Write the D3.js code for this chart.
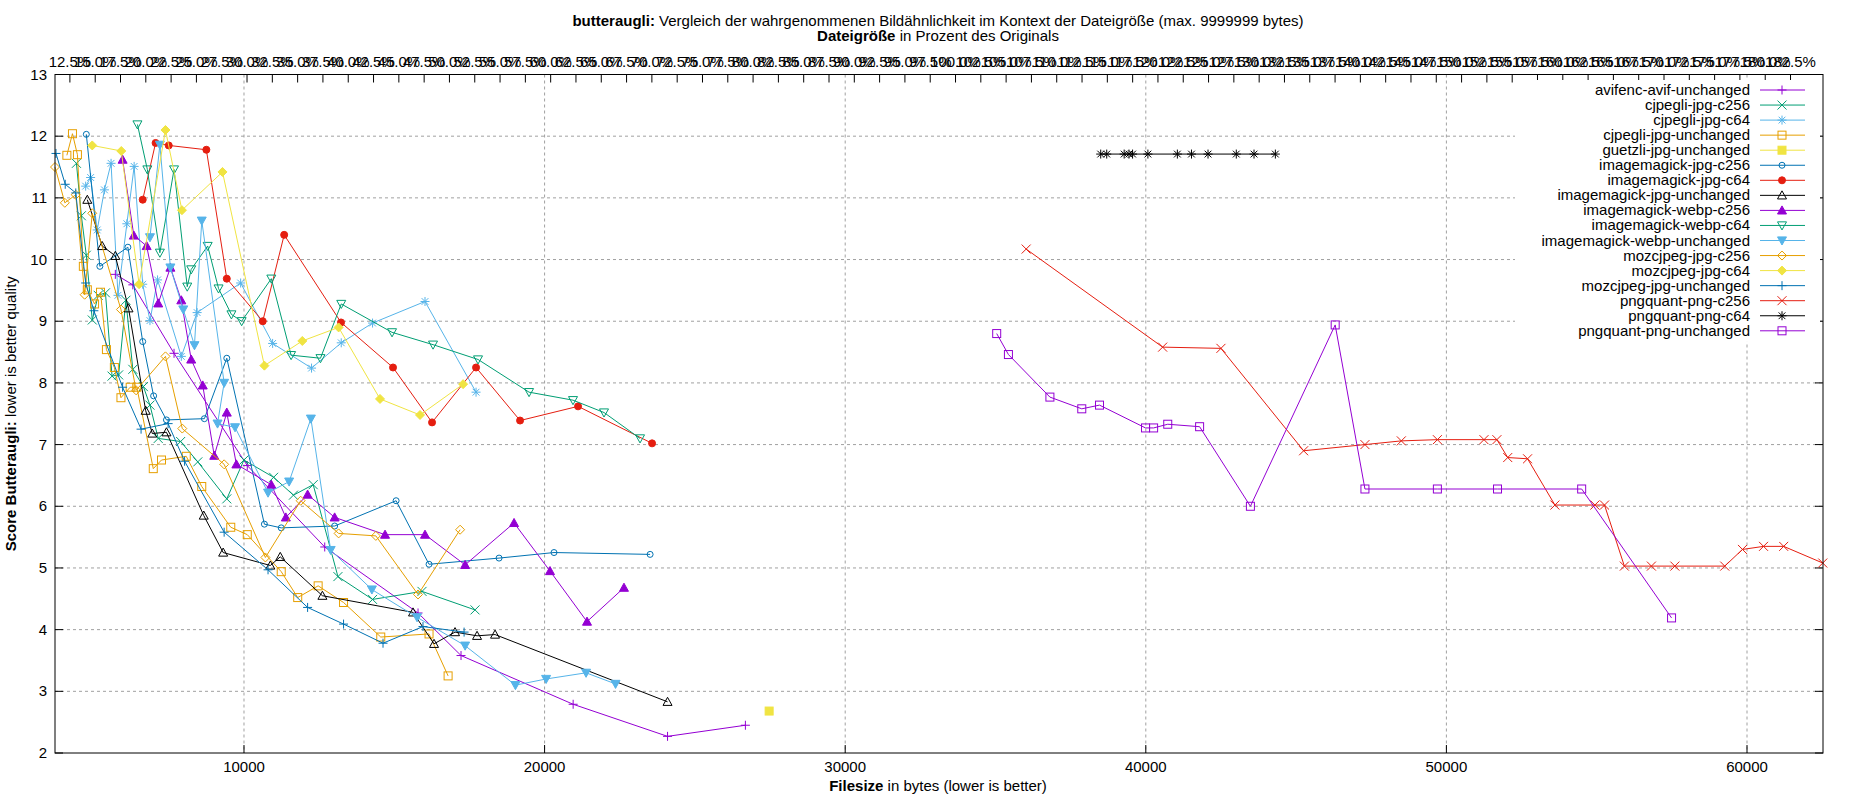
<!DOCTYPE html>
<html><head><meta charset="utf-8">
<script src="https://cdn.jsdelivr.net/npm/d3@7"></script>
<style>body{margin:0;background:#fff}svg{font-family:"Liberation Sans",Arial,sans-serif}</style>
</head><body><svg id="c" width="1850" height="800"></svg>
<script>
const seriesNames=["avifenc-avif-unchanged","cjpegli-jpg-c256","cjpegli-jpg-c64","cjpegli-jpg-unchanged","guetzli-jpg-unchanged","imagemagick-jpg-c256","imagemagick-jpg-c64","imagemagick-jpg-unchanged","imagemagick-webp-c256","imagemagick-webp-c64","imagemagick-webp-unchanged","mozcjpeg-jpg-c256","mozcjpeg-jpg-c64","mozcjpeg-jpg-unchanged","pngquant-png-c256","pngquant-png-c64","pngquant-png-unchanged"];
const avif=[[5720,9.76],[6302,9.59],[7673,8.48],[10109,6.66],[12686,5.34],[15790,4.27],[17220,3.58],[20950,2.79],[24090,2.27],[26680,2.45]];
const cjpegliC256=[[4426,11.56],[4590,10.71],[4755,10.07],[4953,9.02],[5150,9.42],[5391,9.46],[5611,8.11],[5830,8.13],[6071,9.34],[6302,8.22],[6653,7.94],[6872,7.64],[7147,7.10],[7893,7.05],[8463,6.72],[9428,6.12],[9999,6.75],[10986,6.47],[11645,6.18],[12302,6.35],[13125,4.86],[14277,4.49],[15922,4.62],[17686,4.32]];
const cjpegliC64=[[4733,11.19],[4898,11.33],[5117,10.48],[5358,11.13],[5578,11.56],[5808,9.42],[6104,10.58],[6346,11.51],[6631,9.6],[6872,9.01],[7125,9.67],[7915,8.43],[8441,9.14],[9889,9.62],[10953,8.64],[12247,8.24],[13235,8.65],[14277,8.97],[16022,9.32],[17720,7.85]];
const cjpegliUnch=[[4108,11.69],[4294,12.04],[4459,11.70],[4656,9.89],[4788,9.51],[5029,9.28],[5227,9.47],[5424,8.54],[5688,8.25],[5907,7.76],[6214,7.93],[6434,7.93],[6982,6.61],[7256,6.75],[8079,6.81],[8595,6.32],[9560,5.66],[10109,5.54],[11239,4.94],[11787,4.52],[12467,4.71],[13312,4.44],[14550,3.88],[16156,3.93],[16790,3.25]];
const guetzli=[[27470,2.68]];
const imC256=[[4755,12.03],[5205,9.89],[6137,10.2],[6631,8.67],[6993,7.79],[7421,7.4],[8683,7.42],[9428,8.4],[10679,5.71],[11239,5.65],[13016,5.68],[15060,6.09],[16156,5.06],[18485,5.16],[20313,5.25],[23510,5.22]];
const imC64=[[6631,10.97],[7059,11.89],[7497,11.85],[8748,11.78],[9428,9.69],[10624,9.0],[11337,10.4],[13228,8.98],[14958,8.25],[16256,7.36],[17720,8.25],[19184,7.39],[21113,7.62],[23575,7.02]];
const imUnch=[[4788,10.97],[5282,10.22],[5720,10.06],[6159,9.21],[6730,7.55],[6949,7.18],[7421,7.2],[8661,5.85],[9307,5.25],[10877,5.04],[11206,5.18],[12609,4.55],[15623,4.28],[16322,3.77],[17021,3.96],[17753,3.9],[18352,3.92],[24090,2.83]];
const webpC256=[[5962,11.62],[6335,10.39],[6762,10.22],[7147,9.29],[7552,9.87],[7914,9.34],[8244,8.38],[8628,7.96],[9011,6.82],[9428,7.52],[9747,6.68],[10909,6.35],[11392,5.82],[12116,6.19],[13016,5.82],[14692,5.54],[16022,5.54],[17356,5.05],[18984,5.73],[20180,4.95],[21411,4.13],[22641,4.68]];
const webpC64=[[6455,12.19],[6785,11.46],[7202,10.11],[7673,11.46],[8112,9.56],[8244,9.84],[8792,10.22],[9154,9.53],[9582,9.11],[9922,9.0],[10909,9.69],[11567,8.45],[12544,8.4],[13235,9.28],[14925,8.82],[16289,8.62],[17786,8.38],[19483,7.85],[20946,7.72],[21977,7.52],[23175,7.1]];
const webpUnch=[[6872,10.36],[7202,11.86],[7552,9.87],[7980,9.19],[8353,8.61],[8595,10.63],[9340,8.0],[9120,7.34],[9702,7.28],[10800,6.22],[11502,6.4],[12226,7.42],[12884,5.29],[14255,4.65],[15757,4.2],[17356,3.74],[19030,3.1],[20050,3.2],[21380,3.3],[22360,3.12]];
const mozC256=[[3713,11.5],[4040,10.92],[4404,11.05],[4700,9.43],[4952,10.75],[5907,9.19],[6411,7.88],[7388,8.43],[7947,7.26],[9340,6.68],[10712,5.17],[11886,6.09],[13148,5.56],[14386,5.52],[15790,4.57],[17190,5.62]];
const mozC64=[[4952,11.85],[5918,11.76],[6510,9.6],[7388,12.1],[7936,10.8],[9285,11.42],[10679,8.28],[11940,8.68],[13148,8.9],[14525,7.74],[15856,7.48],[17289,7.98]];
const mozUnch=[[3746,11.72],[4053,11.22],[4404,11.08],[4733,9.62],[5007,9.17],[5962,7.93],[6576,7.25],[7476,7.34],[8024,6.73],[9340,5.58],[10800,4.97],[12116,4.36],[13312,4.09],[14625,3.78],[15955,4.05],[17322,3.96]];
const pngC256=[[36020,10.17],[40560,8.58],[42500,8.56],[45250,6.9],[47290,7.0],[48500,7.06],[49700,7.08],[51250,7.08],[51680,7.08],[52040,6.79],[52700,6.77],[53610,6.02],[54940,6.02],[55260,6.02],[55920,5.03],[56820,5.03],[57600,5.03],[59260,5.03],[59850,5.3],[60550,5.35],[61220,5.35],[62520,5.08]];
const pngC64=[[38500,11.71],[38700,11.71],[39280,11.71],[39440,11.71],[39560,11.71],[40070,11.71],[41050,11.71],[41520,11.71],[42070,11.71],[43010,11.71],[43600,11.71],[44310,11.71]];
const pngUnch=[[35040,8.8],[35430,8.46],[36810,7.77],[37870,7.58],[38460,7.64],[39990,7.27],[40260,7.27],[40730,7.33],[41790,7.29],[43480,6.0],[46300,8.94],[47290,6.28],[49700,6.28],[51700,6.28],[54500,6.28],[57490,4.19]];
const seriesData=[avif,cjpegliC256,cjpegliC64,cjpegliUnch,guetzli,imC256,imC64,imUnch,webpC256,webpC64,webpUnch,mozC256,mozC64,mozUnch,pngC256,pngC64,pngUnch];
const palette=["#9400d3","#009e73","#56b4e9","#e69f00","#f0e442","#0072b2","#e51e10","#000000"];
const markers=["plus","cross","star","sq","fsq","circ","fcirc","tri","ftri","dtri","fdtri","dia","fdia","plus","cross","star","sq"];
const yTicks=[2,3,4,5,6,7,8,9,10,11,12,13];
const xTicks=[10000,20000,30000,40000,50000,60000];
const originalSize=33670;

const svg=d3.select("#c");
const L=55,R=1823,T=74.5,B=753;
const x=d3.scaleLinear().domain([3713,62528]).range([L,R]);
const y=d3.scaleLinear().domain([2,13]).range([B,T]);
const x2=d3.scaleLinear().domain([3713/originalSize*100,62528/originalSize*100]).range([L,R]);
const pctTicks=d3.range(12.5,183,2.5);

// grid
const g=svg.append("g");
g.selectAll(".gy").data(yTicks.slice(1,-1)).join("line").attr("x1",L).attr("x2",R).attr("y1",d=>y(d)).attr("y2",d=>y(d)).attr("stroke","#a0a0a0").attr("stroke-dasharray","3,3");
g.selectAll(".gx").data(xTicks).join("line").attr("y1",T).attr("y2",B).attr("x1",d=>x(d)).attr("x2",d=>x(d)).attr("stroke","#a0a0a0").attr("stroke-dasharray","3,3");

// axes
const fs=15;
const ax=svg.append("g").attr("font-size",fs).attr("fill","#000");
ax.selectAll(".yl").data(yTicks).join("text").attr("x",L-8).attr("y",d=>y(d)+5).attr("text-anchor","end").text(d=>d);
ax.selectAll(".xl").data(xTicks).join("text").attr("x",d=>x(d)).attr("y",B+19).attr("text-anchor","middle").text(d=>d);
ax.selectAll(".pl").data(pctTicks).join("text").attr("x",d=>x2(d)).attr("y",T-8).attr("text-anchor","middle").text(d=>d.toFixed(1)+"%");
const tk=svg.append("g").attr("stroke","#000");
yTicks.forEach(v=>{tk.append("line").attr("x1",L).attr("x2",L+8).attr("y1",y(v)).attr("y2",y(v));tk.append("line").attr("x1",R).attr("x2",R-8).attr("y1",y(v)).attr("y2",y(v));});
xTicks.forEach(v=>{tk.append("line").attr("x1",x(v)).attr("x2",x(v)).attr("y1",B).attr("y2",B-8);});
pctTicks.forEach(v=>{tk.append("line").attr("x1",x2(v)).attr("x2",x2(v)).attr("y1",T).attr("y2",T+8);});

// symbols
function marker(sel,type,col,cx,cy){
  const s=4.5, gg=sel.append("g").attr("transform",`translate(${cx},${cy})`).attr("stroke",col).attr("fill","none").attr("stroke-width",1);
  switch(type){
    case "plus": gg.append("path").attr("d",`M${-s},0H${s}M0,${-s}V${s}`);break;
    case "cross": gg.append("path").attr("d",`M${-s},${-s}L${s},${s}M${-s},${s}L${s},${-s}`);break;
    case "star": gg.append("path").attr("d",`M${-s},0H${s}M0,${-s}V${s}M${-s*.75},${-s*.75}L${s*.75},${s*.75}M${-s*.75},${s*.75}L${s*.75},${-s*.75}`);break;
    case "sq": gg.append("rect").attr("x",-4).attr("y",-4).attr("width",8).attr("height",8);break;
    case "fsq": gg.append("rect").attr("x",-4).attr("y",-4).attr("width",8).attr("height",8).attr("fill",col);break;
    case "circ": gg.append("circle").attr("r",3);break;
    case "fcirc": gg.append("circle").attr("r",3.5).attr("fill",col);break;
    case "tri": gg.append("path").attr("d",`M0,${-s}L${s},${s*.8}L${-s},${s*.8}Z`);break;
    case "ftri": gg.append("path").attr("d",`M0,${-s}L${s},${s*.8}L${-s},${s*.8}Z`).attr("fill",col);break;
    case "dtri": gg.append("path").attr("d",`M0,${s}L${s},${-s*.8}L${-s},${-s*.8}Z`);break;
    case "fdtri": gg.append("path").attr("d",`M0,${s}L${s},${-s*.8}L${-s},${-s*.8}Z`).attr("fill",col);break;
    case "dia": gg.append("path").attr("d",`M0,${-s}L${s},0L0,${s}L${-s},0Z`);break;
    case "fdia": gg.append("path").attr("d",`M0,${-s}L${s},0L0,${s}L${-s},0Z`).attr("fill",col);break;
  }
}
const line=d3.line().x(d=>x(d[0])).y(d=>y(d[1]));
const plot=svg.append("g");
seriesData.forEach((data,i)=>{
  const col=palette[i%8];
  plot.append("path").datum(data).attr("d",line).attr("fill","none").attr("stroke",col).attr("stroke-width",1);
  data.forEach(d=>marker(plot,markers[i],col,x(d[0]),y(d[1])));
});

// legend
const lg=svg.append("g");
lg.append("rect").attr("x",1515).attr("y",80).attr("width",305).attr("height",17*15.05+6).attr("fill","#fff");
seriesNames.forEach((n,i)=>{
  const col=palette[i%8], yy=90+i*15.05;
  lg.append("text").attr("x",1750).attr("y",yy+5).attr("text-anchor","end").attr("font-size",fs).text(n);
  lg.append("line").attr("x1",1760).attr("x2",1805).attr("y1",yy).attr("y2",yy).attr("stroke",col);
  marker(lg,markers[i],col,1782,yy);
});

// frame
svg.append("rect").attr("x",L).attr("y",T).attr("width",R-L).attr("height",B-T).attr("fill","none").attr("stroke","#000");

// titles
const t1=svg.append("text").attr("x",938).attr("y",26).attr("text-anchor","middle").attr("font-size",fs);
t1.append("tspan").attr("font-weight","bold").text("butteraugli:");
t1.append("tspan").text(" Vergleich der wahrgenommenen Bildähnlichkeit im Kontext der Dateigröße (max. 9999999 bytes)");
const t2=svg.append("text").attr("x",938).attr("y",41).attr("text-anchor","middle").attr("font-size",fs);
t2.append("tspan").attr("font-weight","bold").text("Dateigröße");
t2.append("tspan").text(" in Prozent des Originals");
const xl=svg.append("text").attr("x",938).attr("y",791).attr("text-anchor","middle").attr("font-size",fs);
xl.append("tspan").attr("font-weight","bold").text("Filesize");
xl.append("tspan").text(" in bytes (lower is better)");
const yl=svg.append("text").attr("transform",`translate(16,${(T+B)/2}) rotate(-90)`).attr("text-anchor","middle").attr("font-size",fs);
yl.append("tspan").attr("font-weight","bold").text("Score Butteraugli:");
yl.append("tspan").text(" lower is better quality");
</script></body></html>
